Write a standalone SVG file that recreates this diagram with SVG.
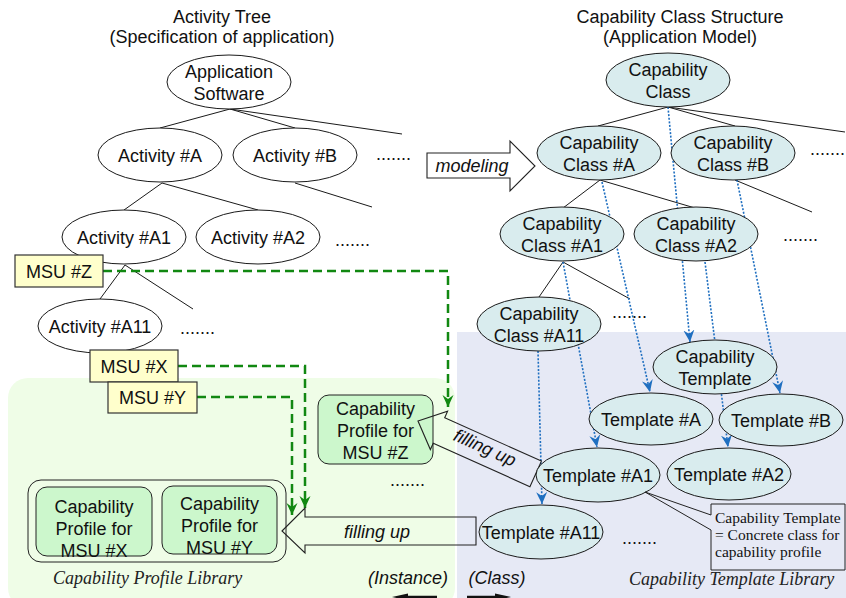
<svg xmlns="http://www.w3.org/2000/svg" width="846" height="598" viewBox="0 0 846 598">
<defs>
<style>
.t{font-family:"Liberation Sans",Arial,sans-serif;font-size:18px;fill:#111;text-anchor:middle}
.ti{font-family:"Liberation Sans",Arial,sans-serif;font-size:18px;fill:#111;text-anchor:middle;font-style:italic}
.d{font-family:"Liberation Sans",Arial,sans-serif;font-size:18px;fill:#111}
.s{font-family:"Liberation Serif","Times New Roman",serif;font-size:18px;fill:#222;font-style:italic}
.c{font-family:"Liberation Serif","Times New Roman",serif;font-size:15.5px;fill:#111}
.e{fill:#fff;stroke:#1a1a1a;stroke-width:1}
.ce{fill:#d9ecee;stroke:#1a1a1a;stroke-width:1}
.msu{fill:#ffffcc;stroke:#333;stroke-width:1.2}
.pr{fill:#ccf7cc;stroke:#222;stroke-width:1}
.tl{stroke:#1a1a1a;stroke-width:1;fill:none}
.bl{stroke:#1f6fc0;stroke-width:1.6;stroke-dasharray:2 1.6;fill:none;marker-end:url(#ab)}
.gr{stroke:#118811;stroke-width:2.5;stroke-dasharray:9 5;fill:none;marker-end:url(#ag)}
.blk{stroke:#222;stroke-width:1.1;fill:none}
</style>
<marker id="ab" markerUnits="userSpaceOnUse" markerWidth="12" markerHeight="12" viewBox="0 0 12 12" refX="12" refY="6" orient="auto">
<path d="M0,0.5 L12,6 L0,11.5 L4,6 Z" fill="#1f6fc0"/>
</marker>
<marker id="ag" markerUnits="userSpaceOnUse" markerWidth="12" markerHeight="12" viewBox="0 0 12 12" refX="12" refY="6" orient="auto">
<path d="M0,0.5 L12,6 L0,11.5 L4,6 Z" fill="#118811"/>
</marker>
</defs>
<rect width="846" height="598" fill="#fff"/>
<g id="backgrounds">
<rect x="8" y="378" width="447" height="230" rx="20" fill="#effde7"/>
<rect x="457" y="332" width="400" height="280" fill="#e6e9f5"/>
</g>
<g id="titles">
<text class="t" x="222" y="23">Activity Tree</text>
<text class="t" x="222" y="43">(Specification of application)</text>
<text class="t" x="680" y="23">Capability Class Structure</text>
<text class="t" x="680" y="43">(Application Model)</text>
</g>
<g id="connectors">
<path class="tl" d="M230,109 L160,128 M230,109 L295,128 M230,109 L402,134"/>
<path class="tl" d="M162,183 L124,210 M162,183 L258,210 M295,183 L372,207"/>
<path class="tl" d="M125,265 L100,299 M125,265 L193,309"/>
<path class="tl" d="M668,107 L598,126 M668,107 L735,126 M668,107 L845,132"/>
<path class="tl" d="M600,180 L563,208 M600,180 L695,208 M735,180 L812,212"/>
<path class="tl" d="M563,262 L539,297 M563,262 L630,299"/>
<path class="bl" d="M668,107 L690,342"/>
<path class="bl" d="M602,182 L650,392"/>
<path class="bl" d="M737,180 L780,393"/>
<path class="bl" d="M563,262 L597,447"/>
<path class="bl" d="M705,262 L728,447"/>
<path class="bl" d="M538,351 L542,504"/>
<path class="gr" d="M103,271 H448 V407"/>
<path class="gr" d="M178,366 H305 V508"/>
<path class="gr" d="M197,397 H292 V515"/>
</g>
<g id="app-software"><ellipse class="e" cx="229" cy="82" rx="62" ry="27"/><text class="t" x="229" y="78">Application</text><text class="t" x="229" y="100">Software</text></g>
<g id="activity-a"><ellipse class="e" cx="160" cy="155" rx="62" ry="27"/><text class="t" x="160" y="162">Activity #A</text></g>
<g id="activity-b"><ellipse class="e" cx="295" cy="155" rx="62" ry="27"/><text class="t" x="295" y="162">Activity #B</text></g>
<g id="activity-a1"><ellipse class="e" cx="124" cy="237" rx="62" ry="27"/><text class="t" x="124" y="244">Activity #A1</text></g>
<g id="activity-a2"><ellipse class="e" cx="258" cy="237" rx="62" ry="27"/><text class="t" x="258" y="244">Activity #A2</text></g>
<g id="activity-a11"><ellipse class="e" cx="100" cy="326" rx="62" ry="27"/><text class="t" x="100" y="333">Activity #A11</text></g>
<g id="dots"><text class="d" x="376" y="160">.......</text><text class="d" x="335" y="246">.......</text><text class="d" x="180" y="334">.......</text><text class="d" x="810" y="155">.......</text><text class="d" x="783" y="241">.......</text><text class="d" x="612" y="318">.......</text><text class="d" x="390" y="486">.......</text><text class="d" x="622" y="544">.......</text></g>
<g id="msu-z"><rect class="msu" x="15" y="255" width="88" height="32"/><text class="t" x="59" y="278">MSU #Z</text></g>
<g id="msu-x"><rect class="msu" x="90" y="350" width="88" height="32"/><text class="t" x="134" y="373">MSU #X</text></g>
<g id="msu-y"><rect class="msu" x="108" y="382" width="89" height="31"/><text class="t" x="152.5" y="404">MSU #Y</text></g>
<g id="profile-z"><rect class="pr" x="318" y="395" width="115" height="69" rx="11"/><text class="t" x="375.5" y="415">Capability</text><text class="t" x="375.5" y="437">Profile for</text><text class="t" x="375.5" y="459">MSU #Z</text></g>
<g id="profile-library"><rect x="28" y="480" width="258" height="82" rx="13" fill="none" stroke="#222" stroke-width="1"/>
<text class="s" x="53" y="584">Capability Profile Library</text></g>
<g id="profile-x"><rect class="pr" x="36" y="487" width="116" height="69" rx="11"/><text class="t" x="94" y="513">Capability</text><text class="t" x="94" y="535">Profile for</text><text class="t" x="94" y="557">MSU #X</text></g>
<g id="profile-y"><rect class="pr" x="162" y="486" width="115" height="68" rx="11"/><text class="t" x="219.5" y="510">Capability</text><text class="t" x="219.5" y="532">Profile for</text><text class="t" x="219.5" y="554">MSU #Y</text></g>
<g id="arrows">
<path d="M427,153 L510,153 L510,141 L535,166 L510,191 L510,178 L427,178 Z" fill="#fff" stroke="#222" stroke-width="1.1"/>
<text class="ti" x="472" y="172">modeling</text>
<path class="blk" d="M282,531 L305,508 L305,517 L476,517 L476,545 L305,545 L305,553 Z"/>
<text class="ti" x="377" y="538">filling up</text>
<g transform="translate(418,421) rotate(24.2)">
<path class="blk" d="M0,0 L23,-21 L23,-14 L129,-14 L129,14 L23,14 L23,21 Z"/>
<text class="ti" x="72" y="3">filling up</text>
</g>
<text class="ti" x="408" y="584">(Instance)</text>
<text class="ti" x="497" y="584">(Class)</text>
<line x1="437" y1="597" x2="402" y2="597" stroke="#111" stroke-width="2.5"/>
<polygon points="392,597 408,593.5 408,600.5" fill="#111"/>
<line x1="467" y1="597" x2="500" y2="597" stroke="#111" stroke-width="2.5"/>
<polygon points="511,597 495,593.5 495,600.5" fill="#111"/>
</g>
<g id="cap-class"><ellipse class="ce" cx="668" cy="80" rx="62" ry="27"/><text class="t" x="668" y="76">Capability</text><text class="t" x="668" y="98">Class</text></g>
<g id="cap-class-a"><ellipse class="ce" cx="599" cy="153" rx="62" ry="27"/><text class="t" x="599" y="149">Capability</text><text class="t" x="599" y="171">Class #A</text></g>
<g id="cap-class-b"><ellipse class="ce" cx="733" cy="153" rx="62" ry="27"/><text class="t" x="733" y="149">Capability</text><text class="t" x="733" y="171">Class #B</text></g>
<g id="cap-class-a1"><ellipse class="ce" cx="562" cy="234" rx="62" ry="27"/><text class="t" x="562" y="230">Capability</text><text class="t" x="562" y="252">Class #A1</text></g>
<g id="cap-class-a2"><ellipse class="ce" cx="696" cy="234" rx="62" ry="27"/><text class="t" x="696" y="230">Capability</text><text class="t" x="696" y="252">Class #A2</text></g>
<g id="cap-class-a11"><ellipse class="ce" cx="539" cy="324" rx="62" ry="27"/><text class="t" x="539" y="320">Capability</text><text class="t" x="539" y="342">Class #A11</text></g>
<g id="cap-template"><ellipse class="ce" cx="715" cy="367" rx="62" ry="27"/><text class="t" x="715" y="363">Capability</text><text class="t" x="715" y="385">Template</text></g>
<g id="template-a"><ellipse class="ce" cx="651" cy="419" rx="62" ry="26"/><text class="t" x="651" y="426">Template #A</text></g>
<g id="template-b"><ellipse class="ce" cx="781" cy="420" rx="62" ry="26"/><text class="t" x="781" y="427">Template #B</text></g>
<g id="template-a1"><ellipse class="ce" cx="598" cy="475" rx="62" ry="27"/><text class="t" x="598" y="482">Template #A1</text></g>
<g id="template-a2"><ellipse class="ce" cx="729" cy="474" rx="62" ry="26"/><text class="t" x="729" y="481">Template #A2</text></g>
<g id="template-a11"><ellipse class="ce" cx="541" cy="532" rx="62" ry="27"/><text class="t" x="541" y="539">Template #A11</text></g>
<g id="callout">
<path d="M711,504 H845 V570 H711 V530 L645,492 L711,515 Z" fill="#e6e9f5" stroke="#222" stroke-width="1"/>
<text class="c" x="715" y="523">Capability Template</text>
<text class="c" x="715" y="540">= Concrete class for</text>
<text class="c" x="715" y="557">capability profile</text>
</g>
<g id="template-library"><text class="s" x="629" y="585">Capability Template Library</text></g>
</svg>
